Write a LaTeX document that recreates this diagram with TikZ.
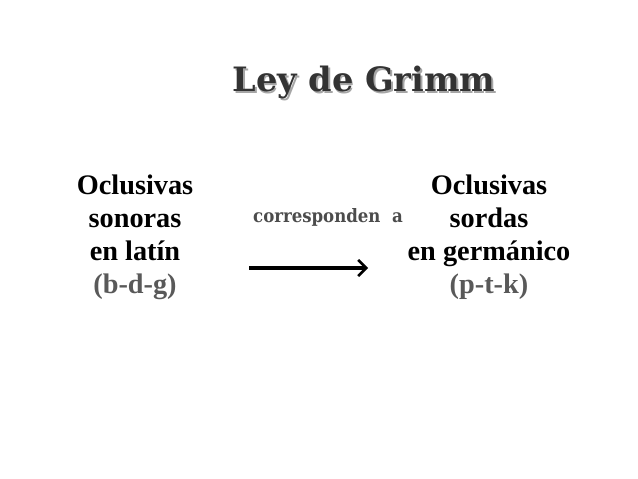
\documentclass[tikz,border=0pt]{standalone}
\usepackage{fontspec}
\setmainfont{Liberation Serif}
\newfontfamily\titlefont{DejaVu Serif}
\newfontfamily\notefont{DejaVu Serif Condensed}
\usetikzlibrary{arrows.meta,positioning}

\begin{document}
\begin{tikzpicture}[x=1bp,y=-1bp,
            title/.style={font=\titlefont\bfseries\fontsize{33.7}{38}\selectfont},
            block/.style={align=center,font=\bfseries\fontsize{28.4}{33}\selectfont},
            note/.style={font=\notefont\bfseries\fontsize{18.5}{21}\selectfont,text=black!70},
            link/.style={line width=3.6bp,-{Straight Barb[length=8bp,width=16bp,line width=2.6bp]}}]
 \useasboundingbox (0,0) rectangle (638,479);
 % title with its shadow
 \node[title,text=black!35] (shadow) at (365.8,84.3) {Ley de Grimm};
 \node[title,text=black!80] (title) at (364,82.5) {Ley de Grimm};

 \node[block] (latin) at (135,237) {Oclusivas\\sonoras\\en latín\\\textcolor{black!65}{(b-d-g)}};
 \node[block] (germ) at (489,237) {Oclusivas\\sordas\\en germánico\\\textcolor{black!65}{(p-t-k)}};

 \node[note] (corr) at (328,217) {corresponden\ \ a};
 \coordinate (arrS) at (249,268);
 \coordinate (arrE) at (368,268);
 \draw[link] (arrS) -- (arrE);
\end{tikzpicture}
\end{document}
